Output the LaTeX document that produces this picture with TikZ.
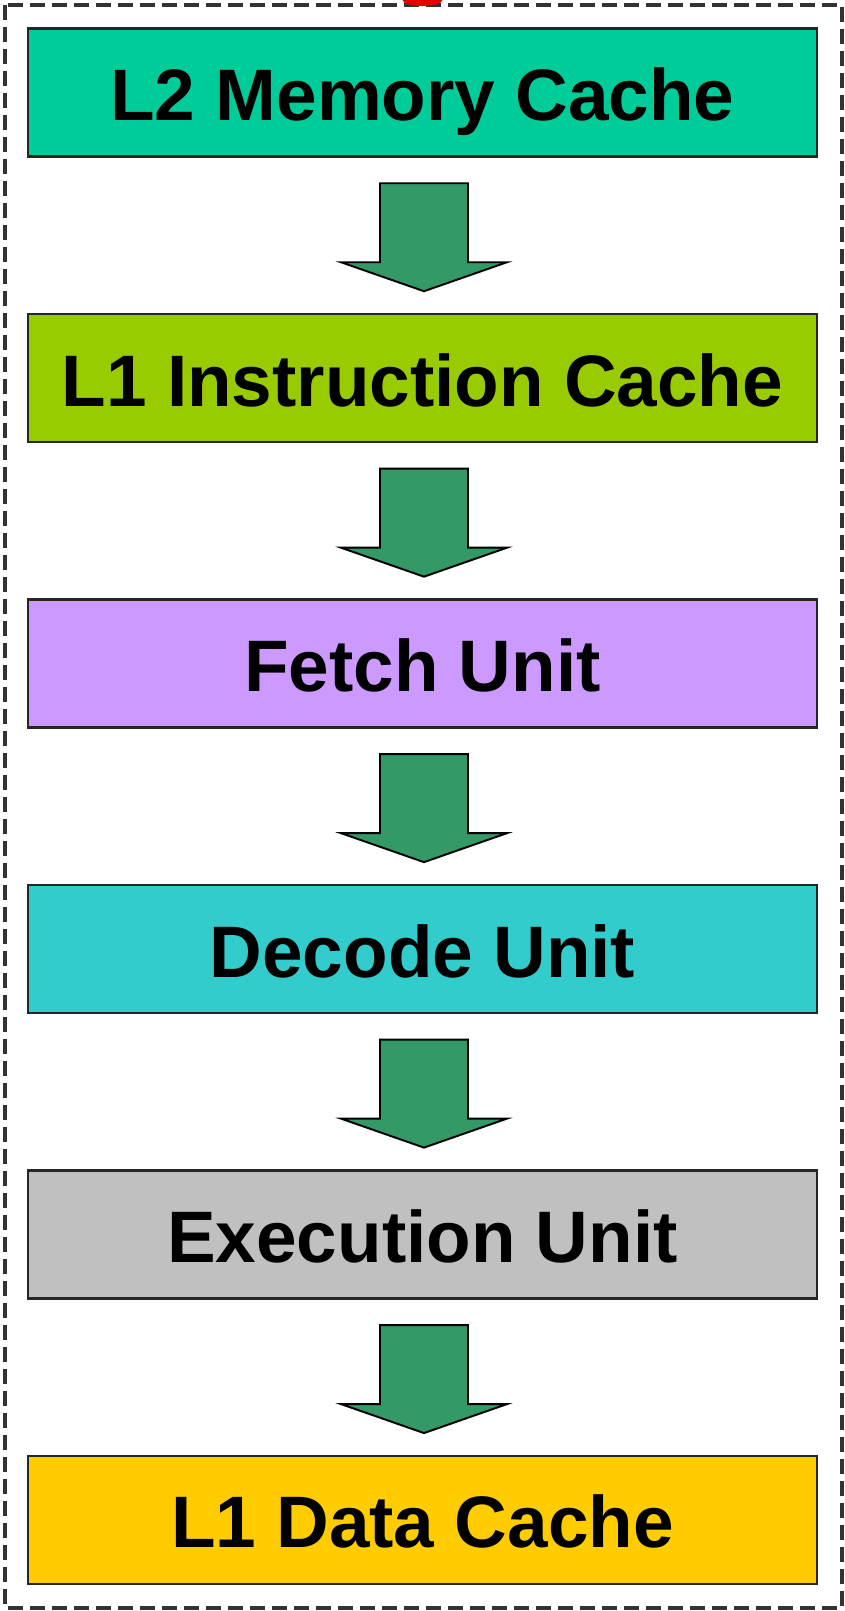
\documentclass[tikz,border=0pt]{standalone}
\usepackage{fontspec}
\setmainfont{Liberation Sans}
\usepackage{tikz}
\usetikzlibrary{positioning, calc}
\usepackage{xcolor}
\definecolor{ltwo}{RGB}{0,204,153}
\definecolor{loneins}{RGB}{153,204,0}
\definecolor{fetch}{RGB}{204,153,255}
\definecolor{decode}{RGB}{51,204,204}
\definecolor{exec}{RGB}{192,192,192}
\definecolor{lonedata}{RGB}{255,204,0}
\definecolor{flowgreen}{RGB}{51,153,102}

\tikzset{
  unitbox/.style={draw=black!85, line width=1.4pt, minimum width=15.78cm,
    minimum height=2.56cm, inner sep=0pt, text height=32pt, text depth=0pt,
    font=\fontsize{41.5}{48}\selectfont\bfseries},
  flowarrow/.style={fill=flowgreen, draw=black, line width=1.1pt, line join=miter}
}

% fat arrow between two boxes
\newcommand{\fatdown}[2]{%
  \coordinate (m) at ($(#1.south)!0.5!(#2.north)+(0.03,-0.04)$);
  \draw[flowarrow] ($(m)+(-0.88,1.08)$) -- ++(1.76,0) -- ++(0,-1.58)
    -- ++(0.78,0) -- ($(m)+(0,-1.08)$) -- ($(m)+(-1.66,-0.5)$)
    -- ++(0.78,0) -- cycle;
}

\begin{document}
\begin{tikzpicture}[node distance=3.10cm]
  \useasboundingbox (-8.45,1.85) rectangle (8.45,-30.37);

  % outer dashed frame
  \draw[line width=1.8pt, dash pattern=on 0.3cm off 0.14cm, black!80]
    (-8.35,1.75) rectangle (8.39,-30.31);
  % red mark cut off at the top
  \fill[red!90!black] (-0.4,1.85) -- (0.4,1.85) arc (0:-180:0.4 and 0.12) -- cycle;

  % stages
  \node[unitbox, fill=ltwo] (l2) at (0,0) {L2 Memory Cache};
  \node[unitbox, fill=loneins, below=of l2] (l1i) {L1 Instruction Cache};
  \node[unitbox, fill=fetch, below=of l1i] (fetch) {Fetch Unit};
  \node[unitbox, fill=decode, below=of fetch] (decode) {Decode Unit};
  \node[unitbox, fill=exec, below=of decode] (exec) {Execution Unit};
  \node[unitbox, fill=lonedata, below=of exec] (l1d) {L1 Data Cache};

  % arrows
  \fatdown{l2}{l1i}
  \fatdown{l1i}{fetch}
  \fatdown{fetch}{decode}
  \fatdown{decode}{exec}
  \fatdown{exec}{l1d}
\end{tikzpicture}
\end{document}
